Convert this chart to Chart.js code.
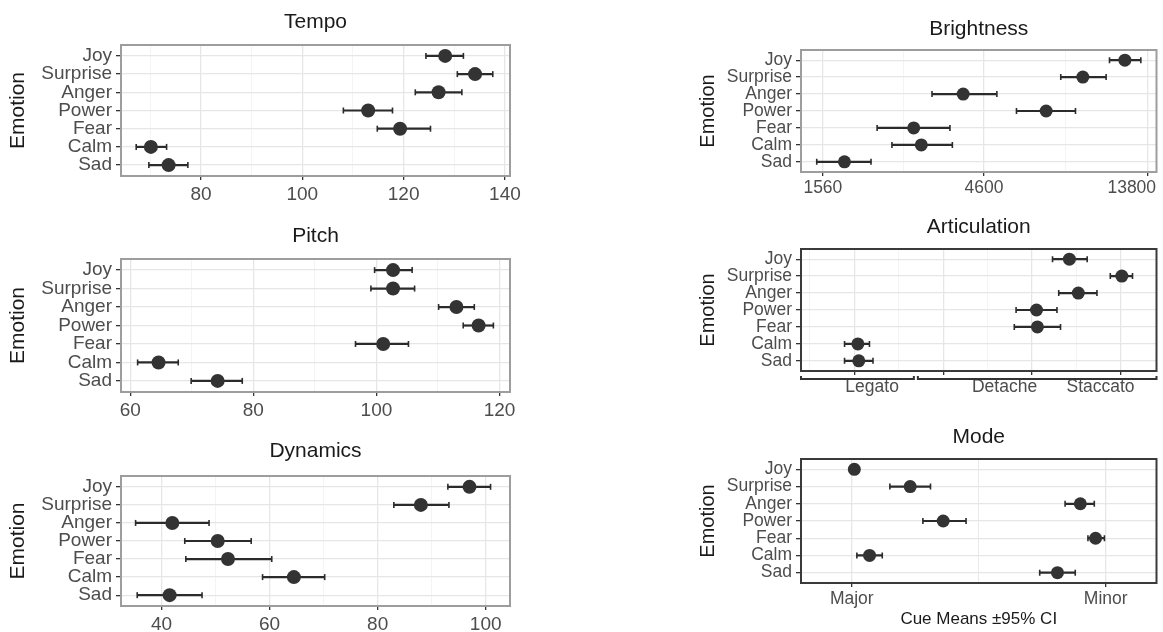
<!DOCTYPE html>
<html>
<head>
<meta charset="utf-8">
<title>Cue means by emotion</title>
<script src="https://cdn.jsdelivr.net/npm/chart.js@4.4.1/dist/chart.umd.min.js"></script>
<style>
  body { margin: 0; background: #fff; width: 1163px; height: 632px; position: relative; overflow: hidden; }
  canvas { position: absolute; }
</style>
</head>
<body>
<canvas id="tempo-chart"></canvas>
<canvas id="pitch-chart"></canvas>
<canvas id="dynamics-chart"></canvas>
<canvas id="brightness-chart"></canvas>
<canvas id="articulation-chart"></canvas>
<canvas id="mode-chart"></canvas>
<script>
const emotions = ['Joy', 'Surprise', 'Anger', 'Power', 'Fear', 'Calm', 'Sad'];

// cue means and 95% CI bounds, one value per emotion (same order as above)
const tempoMean = [128.2, 134.1, 126.9, 113.0, 119.3, 70.1, 73.6];
const tempoLow = [124.4, 130.6, 122.3, 108.1, 114.8, 67.2, 69.7];
const tempoHigh = [131.8, 137.6, 131.5, 117.8, 125.3, 73.2, 77.4];
const tempoTicks = [80, 100, 120, 140];
const tempoMinor = [70, 90, 110, 130];

const pitchMean = [102.7, 102.7, 113.0, 116.6, 101.1, 64.6, 74.2];
const pitchLow = [99.7, 99.1, 110.1, 114.1, 96.6, 61.2, 69.9];
const pitchHigh = [105.8, 106.2, 115.9, 119.0, 105.2, 67.8, 78.2];
const pitchTicks = [60, 80, 100, 120];
const pitchMinor = [70, 90, 110];

const dynamicsMean = [97.0, 88.0, 42.0, 50.4, 52.3, 64.5, 41.5];
const dynamicsLow = [93.0, 83.0, 35.2, 44.3, 44.5, 58.7, 35.5];
const dynamicsHigh = [100.9, 93.2, 48.8, 56.6, 60.4, 70.2, 47.5];
const dynamicsTicks = [40, 60, 80, 100];
const dynamicsMinor = [50, 70, 90];

const brightnessMean = [11840, 8930, 4000, 6980, 2870, 3020, 1803];
const brightnessLow = [10680, 7700, 3245, 5720, 2245, 2480, 1497];
const brightnessHigh = [13180, 10440, 5015, 8500, 3660, 3720, 2155];
const brightnessTicks = [1560, 4600, 13800];
const brightnessMinor = [2679, 7967];
const brightnessLabels = ['1560', '4600', '13800'];
const brightnessLabelAt = [1560, 4600, 12400];

const articulationMean = [3.42, 4.01, 3.52, 3.05, 3.06, 1.04, 1.05];
const articulationLow = [3.23, 3.88, 3.30, 2.82, 2.80, 0.89, 0.89];
const articulationHigh = [3.62, 4.13, 3.73, 3.28, 3.32, 1.17, 1.21];
const articulationTicks = [1, 2, 3, 4];
const articulationMinor = [0.5, 1.5, 2.5, 3.5];
const articulationLabels = ['Legato', 'Detache', 'Staccato'];
const articulationLabelAt = [1.2, 2.69, 3.77];
const articulationBrackets = [[0.4, 1.67], [1.715, 4.4]];

const modeMean = [0.01, 0.23, 0.90, 0.36, 0.96, 0.07, 0.81];
const modeLow = [0.0, 0.15, 0.84, 0.28, 0.93, 0.02, 0.74];
const modeHigh = [0.02, 0.31, 0.955, 0.45, 0.995, 0.12, 0.88];
const modeTicks = [0, 1];
const modeMinor = [0.5];
const modeLabels = ['Major', 'Minor'];

const FONT = "'Liberation Sans', Arial, sans-serif";

// grey frame around the plotting area (theme_bw look)
const panelFrame = {
    id: 'panelFrame',
    afterDraw(chart, args, opts) {
        let a = chart.chartArea;
        let ctx = chart.ctx;
        ctx.save();
        ctx.strokeStyle = opts.color;
        ctx.lineWidth = opts.width;
        ctx.strokeRect(a.left, a.top, a.right - a.left, a.bottom - a.top);
        ctx.restore();
    }
};

// bracket lines under the articulation axis
const axisBrackets = {
    id: 'axisBrackets',
    afterDraw(chart, args, opts) {
        if (!opts.spans) return;
        let xs = chart.scales.x;
        let y = chart.chartArea.bottom + 8;
        let ctx = chart.ctx;
        ctx.save();
        ctx.strokeStyle = '#333';
        ctx.lineWidth = 2;
        opts.spans.forEach(s => {
            let x0 = xs.getPixelForValue(s[0]);
            let x1 = xs.getPixelForValue(s[1]);
            ctx.beginPath();
            ctx.moveTo(x0, y - 3);
            ctx.lineTo(x0, y);
            ctx.lineTo(x1, y);
            ctx.lineTo(x1, y - 3);
            ctx.stroke();
        });
        ctx.restore();
    }
};

// list of x ticks: majors get gridline + tick mark, minors only a light gridline,
// 'label' entries only carry text (used where the text is not centred on the tick)
function buildTicks(major, minor, labels, labelAt) {
    let ticks = major.map((v, i) => ({
        value: v,
        text: labelAt ? '' : (labels ? labels[i] : String(v)),
        kind: 'major'
    }));
    minor.forEach(v => ticks.push({value: v, text: '', kind: 'minor'}));
    if (labelAt) {
        labelAt.forEach((v, i) => ticks.push({value: v, text: labels[i], kind: 'label'}));
    }
    return ticks.sort((a, b) => a.value - b.value);
}

function renderPanel(id, cfg) {
    let canvas = document.getElementById(id);
    let titleLine = cfg.titleSize * 1.2;
    let top = Math.round(cfg.titleY - titleLine / 2);
    canvas.width = cfg.canvasR - cfg.canvasL;
    canvas.height = cfg.canvasB - top;
    canvas.style.left = cfg.canvasL + 'px';
    canvas.style.top = top + 'px';

    // means first so they are painted on top of the error bars
    let datasets = [{
        data: cfg.mean.map((v, i) => ({x: v, y: i})),
        pointRadius: cfg.dot,
        pointBackgroundColor: '#333333',
        pointBorderWidth: 0
    }];
    cfg.mean.forEach((v, i) => {
        datasets.push({
            data: [{x: cfg.low[i], y: i}, {x: cfg.high[i], y: i}],
            showLine: true,
            borderColor: '#2b2b2b',
            borderWidth: 2.2,
            pointStyle: 'line',
            pointRotation: 90,
            pointRadius: 3,
            pointBorderWidth: 1.6,
            pointBorderColor: '#2b2b2b'
        });
    });

    let xTicks = cfg.ticks;
    let minorColor = cfg.minorColor || '#f3f3f3';

    new Chart(canvas, {
        type: 'scatter',
        data: {datasets: datasets},
        plugins: [panelFrame, axisBrackets],
        options: {
            responsive: false,
            animation: false,
            events: [],
            layout: {padding: {left: 0, top: 0, right: cfg.canvasR - cfg.plotR, bottom: 0}},
            plugins: {
                legend: {display: false},
                tooltip: {enabled: false},
                title: {
                    display: true,
                    text: cfg.title,
                    fullSize: false,
                    color: '#1a1a1a',
                    font: {family: FONT, size: cfg.titleSize, weight: 'normal'},
                    padding: {top: 0, bottom: cfg.plotT - top - titleLine}
                },
                panelFrame: {color: cfg.frameColor, width: 2},
                axisBrackets: {spans: cfg.brackets || null}
            },
            scales: {
                x: {
                    type: cfg.type,
                    bounds: 'data',
                    min: cfg.min,
                    max: cfg.max,
                    afterBuildTicks: s => { s.ticks = xTicks.map(t => Object.assign({}, t)); },
                    afterFit: s => {
                        s.height = cfg.canvasB - cfg.plotB;
                        s.paddingLeft = 0;
                        s.paddingRight = 0;
                    },
                    border: {display: false},
                    grid: {
                        color: c => c.tick.kind === 'major' ? '#e6e6e6' : (c.tick.kind === 'minor' ? minorColor : 'rgba(0,0,0,0)'),
                        lineWidth: c => c.tick.kind === 'major' ? 1.3 : 0.9,
                        tickColor: c => c.tick.kind === 'major' ? '#333' : 'rgba(0,0,0,0)',
                        tickLength: 4
                    },
                    ticks: {
                        callback: (v, i, ticks) => ticks[i].text,
                        autoSkip: false,
                        maxRotation: 0,
                        padding: cfg.xPad,
                        color: '#4d4d4d',
                        font: {family: FONT, size: cfg.tickSize}
                    },
                    title: {
                        display: !!cfg.xTitle,
                        text: cfg.xTitle || '',
                        color: '#1a1a1a',
                        font: {family: FONT, size: 17},
                        padding: {top: 0, bottom: 2}
                    }
                },
                y: {
                    type: 'linear',
                    bounds: 'data',
                    min: -0.6,
                    max: emotions.length - 0.4,
                    reverse: true,
                    afterBuildTicks: s => { s.ticks = emotions.map((e, i) => ({value: i})); },
                    afterFit: s => {
                        s.width = cfg.plotL - cfg.canvasL;
                        s.paddingTop = 0;
                        s.paddingBottom = 0;
                    },
                    border: {display: false},
                    grid: {color: '#e6e6e6', lineWidth: 1.3, tickColor: '#333', tickLength: 5},
                    ticks: {
                        callback: v => emotions[v],
                        autoSkip: false,
                        padding: 4,
                        color: '#4d4d4d',
                        font: {family: FONT, size: cfg.tickSize}
                    },
                    title: {
                        display: true,
                        text: 'Emotion',
                        color: '#1a1a1a',
                        font: {family: FONT, size: cfg.yTitleSize},
                        padding: {top: 6, bottom: 0}
                    }
                }
            }
        }
    });
}

function app() {
    let left = {canvasL: 0, canvasR: 540, plotL: 121, plotR: 510, tickSize: 19, titleSize: 21, yTitleSize: 21, xPad: 3, dot: 7, frameColor: '#9d9d9d'};
    let right = {canvasL: 690, canvasR: 1163, plotL: 801, plotR: 1160, tickSize: 17.5, titleSize: 21, yTitleSize: 20, xPad: 2, dot: 6.5, frameColor: '#9d9d9d'};

    renderPanel('tempo-chart', Object.assign({}, left, {
        title: 'Tempo', titleY: 23, plotT: 45, plotB: 176, canvasB: 212,
        type: 'linear', min: 64.2, max: 141,
        mean: tempoMean, low: tempoLow, high: tempoHigh,
        ticks: buildTicks(tempoTicks, tempoMinor)
    }));
    renderPanel('pitch-chart', Object.assign({}, left, {
        title: 'Pitch', titleY: 237, plotT: 259, plotB: 392, canvasB: 428,
        type: 'linear', min: 58.5, max: 121.7,
        mean: pitchMean, low: pitchLow, high: pitchHigh,
        ticks: buildTicks(pitchTicks, pitchMinor)
    }));
    renderPanel('dynamics-chart', Object.assign({}, left, {
        title: 'Dynamics', titleY: 452, plotT: 476, plotB: 606, canvasB: 632,
        type: 'linear', min: 32.5, max: 104.5,
        mean: dynamicsMean, low: dynamicsLow, high: dynamicsHigh,
        ticks: buildTicks(dynamicsTicks, dynamicsMinor)
    }));
    renderPanel('brightness-chart', Object.assign({}, right, {
        title: 'Brightness', titleY: 30, plotT: 50, plotB: 172, canvasB: 205,
        type: 'logarithmic', min: 1347, max: 14640,
        mean: brightnessMean, low: brightnessLow, high: brightnessHigh,
        ticks: buildTicks(brightnessTicks, brightnessMinor, brightnessLabels, brightnessLabelAt)
    }));
    renderPanel('articulation-chart', Object.assign({}, right, {
        title: 'Articulation', titleY: 228, plotT: 249, plotB: 371, canvasB: 405,
        type: 'linear', min: 0.4, max: 4.4, frameColor: '#3a3a3a',
        mean: articulationMean, low: articulationLow, high: articulationHigh,
        ticks: buildTicks(articulationTicks, articulationMinor, articulationLabels, articulationLabelAt),
        brackets: articulationBrackets
    }));
    renderPanel('mode-chart', Object.assign({}, right, {
        title: 'Mode', titleY: 438, plotT: 459, plotB: 583, canvasB: 632,
        type: 'linear', min: -0.2, max: 1.2, frameColor: '#3a3a3a', minorColor: '#e6e6e6',
        mean: modeMean, low: modeLow, high: modeHigh,
        ticks: buildTicks(modeTicks, modeMinor, modeLabels),
        xTitle: 'Cue Means \u00b195% CI'
    }));
}

app();
</script>
</body>
</html>
